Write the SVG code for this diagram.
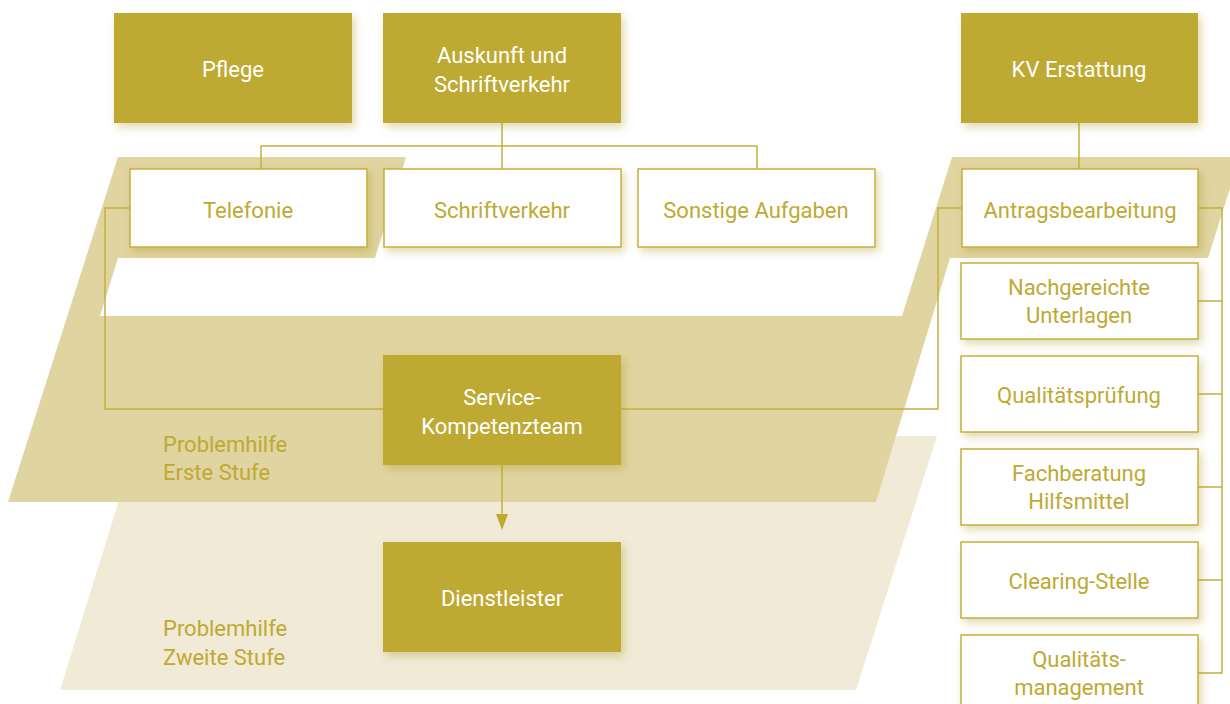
<svg xmlns="http://www.w3.org/2000/svg" width="1230" height="704" viewBox="0 0 1230 704">
<style>
.fill{fill:#bea932;filter:url(#sh)}
.box{fill:#fff;stroke:#c4b03c;stroke-width:1.5;filter:url(#sh)}
.tw{font-family:Roboto,"Liberation Sans",sans-serif;font-size:22px;fill:#fff;text-anchor:middle}
.tg{font-family:Roboto,"Liberation Sans",sans-serif;font-size:22px;fill:#bea932;text-anchor:middle}
.tl{font-family:Roboto,"Liberation Sans",sans-serif;font-size:22px;fill:#bea932}
.ln{fill:none;stroke:#c4b03c;stroke-width:1.5}
</style>
<defs>
<filter id="sh" x="-20%" y="-20%" width="140%" height="150%">
<feDropShadow dx="3" dy="4" stdDeviation="4" flood-color="#a89020" flood-opacity="0.35"/>
</filter>
</defs>
<rect width="1230" height="704" fill="#fff"/>
<g id="layer2">
<polygon points="139,436 937,436 856,690 60,690" fill="#f0ead6"/>
</g>
<g id="layer1">
<polygon points="118,157 406,157 375,258 118,258 100,316 902,316 952,157 1240,157 1208,258 950,258 876,502 8,502" fill="#e0d4a0"/>
</g>
<g id="connectors">
<path class="ln" d="M502,123 V169 M261,169 V146 H757 V169"/>
<path class="ln" d="M1079,123 V169"/>
<path class="ln" d="M130,208 H105 V409 H383"/>
<path class="ln" d="M621,409 H938 V208 H962"/>
<path class="ln" d="M1198,208 H1222 V673 H1198 M1198,301 H1222 M1198,394 H1222 M1198,487 H1222 M1198,580 H1222"/>
<path class="ln" d="M502,465 V516"/>
<polygon points="496,514 508,514 502,530" fill="#bea932"/>
</g>
<g id="pflege"><rect class="fill" x="114" y="13" width="238" height="110"/><text class="tw" x="233" y="77">Pflege</text></g>
<g id="auskunft"><rect class="fill" x="383" y="13" width="238" height="110"/><text class="tw" x="502" y="63">Auskunft und</text><text class="tw" x="502" y="92">Schriftverkehr</text></g>
<g id="kv"><rect class="fill" x="961" y="13" width="237" height="110"/><text class="tw" x="1079" y="77">KV Erstattung</text></g>
<g id="telefonie"><rect class="box" x="130" y="169" width="237" height="78"/><text class="tg" x="248" y="218">Telefonie</text></g>
<g id="schriftverkehr"><rect class="box" x="384" y="169" width="237" height="78"/><text class="tg" x="502" y="218">Schriftverkehr</text></g>
<g id="sonstige"><rect class="box" x="638" y="169" width="237" height="78"/><text class="tg" x="756" y="218">Sonstige Aufgaben</text></g>
<g id="antrag"><rect class="box" x="962" y="169" width="236" height="78"/><text class="tg" x="1080" y="218">Antragsbearbeitung</text></g>
<g id="nachgereichte"><rect class="box" x="961" y="263" width="237" height="76"/><text class="tg" x="1079" y="295">Nachgereichte</text><text class="tg" x="1079" y="323">Unterlagen</text></g>
<g id="qualitaetspruefung"><rect class="box" x="961" y="356" width="237" height="76"/><text class="tg" x="1079" y="403">Qualitätsprüfung</text></g>
<g id="fachberatung"><rect class="box" x="961" y="449" width="237" height="76"/><text class="tg" x="1079" y="481">Fachberatung</text><text class="tg" x="1079" y="509">Hilfsmittel</text></g>
<g id="clearing"><rect class="box" x="961" y="542" width="237" height="76"/><text class="tg" x="1079" y="589">Clearing-Stelle</text></g>
<g id="qm"><rect class="box" x="961" y="635" width="237" height="76"/><text class="tg" x="1079" y="667">Qualitäts-</text><text class="tg" x="1079" y="695">management</text></g>
<g id="service"><rect class="fill" x="383" y="355" width="238" height="110"/><text class="tw" x="502" y="405">Service-</text><text class="tw" x="502" y="434">Kompetenzteam</text></g>
<g id="dienstleister"><rect class="fill" x="383" y="542" width="238" height="110"/><text class="tw" x="502" y="606">Dienstleister</text></g>
<g id="labels">
<text class="tl" x="163" y="452">Problemhilfe</text><text class="tl" x="163" y="480">Erste Stufe</text>
<text class="tl" x="163" y="636">Problemhilfe</text><text class="tl" x="163" y="665">Zweite Stufe</text>
</g>
</svg>
